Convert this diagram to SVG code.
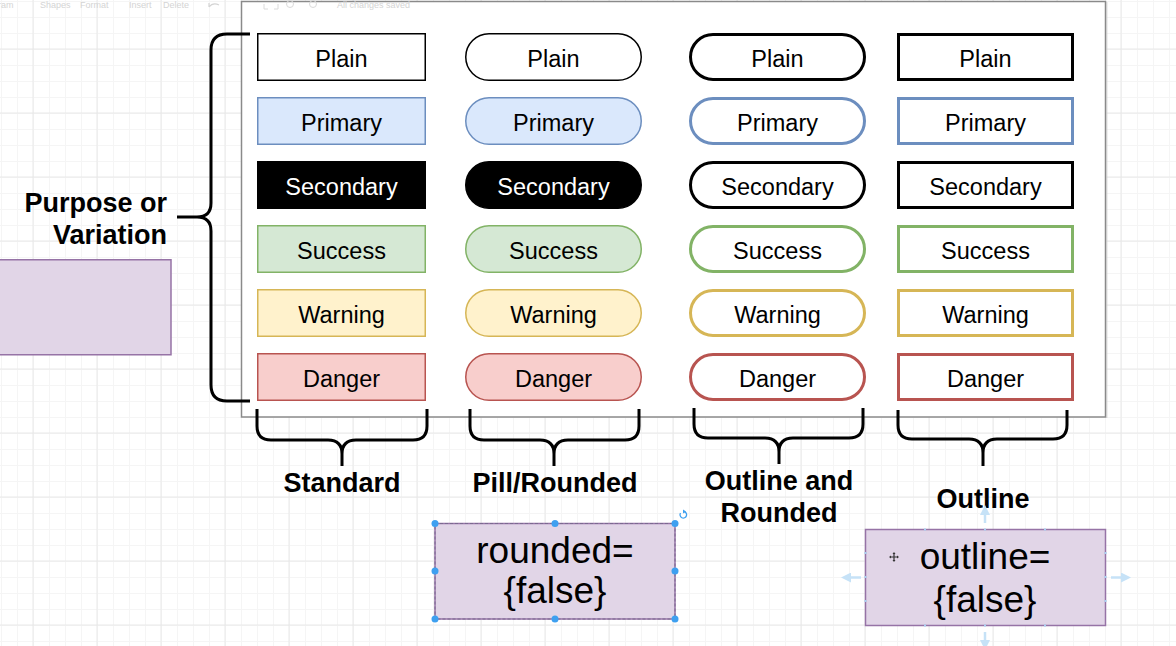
<svg xmlns="http://www.w3.org/2000/svg" width="1176" height="646" viewBox="0 0 1176 646">
<defs>
<pattern id="minor" patternUnits="userSpaceOnUse" x="1" y="1" width="16" height="16">
<path d="M0.5,0 V16 M0,0.5 H16" fill="none" stroke="#f5f5f5" stroke-width="1"/>
</pattern>
<pattern id="major" patternUnits="userSpaceOnUse" x="32.5" y="48.5" width="64" height="64">
<path d="M0.5,0 V64 M0,0.5 H64" fill="none" stroke="#e8e8e8" stroke-width="1"/>
</pattern>
<marker id="harrow" viewBox="0 0 10 10" refX="5" refY="5" markerWidth="4" markerHeight="4" orient="auto">
<path d="M0,0 L10,5 L0,10 z" fill="#c6e2f7"/>
</marker>
</defs>
<style>
.t{font-family:"Liberation Sans",Arial,Helvetica,sans-serif;font-size:23.5px;text-anchor:middle;fill:#000}
.tw{fill:#fff}
.lbl{font-family:"Liberation Sans",Arial,Helvetica,sans-serif;font-size:27px;font-weight:bold;fill:#000}
.big{font-family:"Liberation Sans",Arial,Helvetica,sans-serif;font-size:37px;text-anchor:middle;fill:#000}
.tb{font-family:"Liberation Sans",Arial,Helvetica,sans-serif;font-size:9px;fill:#d4d4d4}
.brace{fill:none;stroke:#000;stroke-width:3;stroke-linejoin:round}
.s1{stroke-width:1.5}
.s3{stroke-width:3;fill:#fff}
.plain{fill:#fff;stroke:#000}
.primary{fill:#dae8fc;stroke:#6c8ebf}
.secondary{fill:#000;stroke:#000}
.success{fill:#d5e8d4;stroke:#82b366}
.warning{fill:#fff2cc;stroke:#d6b656}
.danger{fill:#f8cecc;stroke:#b85450}
.o-plain{stroke:#000}
.o-primary{stroke:#6c8ebf}
.o-secondary{stroke:#000}
.o-success{stroke:#82b366}
.o-warning{stroke:#d6b656}
.o-danger{stroke:#b85450}
.purple{fill:#e1d5e7;stroke:#9673a6;stroke-width:1.5}
.handle{fill:#3ea0f0}
.hov{fill:none;stroke:#c6e2f7;stroke-width:2.5}
</style>

<!-- background grid -->
<rect x="0" y="0" width="1176" height="646" fill="#ffffff"/>
<rect x="0" y="0" width="1176" height="646" fill="url(#minor)"/>
<rect x="0" y="0" width="1176" height="646" fill="url(#major)"/>

<!-- faint toolbar -->
<g id="toolbar">
<text class="tb" x="-2" y="8">ram</text>
<text class="tb" x="40" y="8">Shapes</text>
<text class="tb" x="80" y="8">Format</text>
<text class="tb" x="129" y="8">Insert</text>
<text class="tb" x="163" y="8">Delete</text>
<path d="M209,7 Q213,2 219,5 M209,7 V3" fill="none" stroke="#d4d4d4" stroke-width="1.2"/>
</g>

<!-- panel -->
<g id="panel">
<rect x="241.5" y="1.5" width="864" height="415.5" fill="#ffffff" stroke="#8a8a8a" stroke-width="1.5"/>
<line x1="1106.8" y1="2" x2="1106.8" y2="418" stroke="#c8c8c8" stroke-width="1"/>
<path d="M264,4 V9 H268 M278,4 V9 H274" fill="none" stroke="#dadada" stroke-width="1"/>
<circle cx="290" cy="4" r="3.5" fill="none" stroke="#dadada" stroke-width="1"/>
<circle cx="313" cy="4" r="3.5" fill="none" stroke="#dadada" stroke-width="1"/>
<text class="tb" x="337" y="8">All changes saved</text>
</g>

<!-- Standard column -->
<g id="std-plain"><rect class="plain s1" x="257.75" y="33.75" width="167.5" height="46.5"/><text class="t" x="341.5" y="66.5">Plain</text></g>
<g id="std-primary"><rect class="primary s1" x="257.75" y="97.75" width="167.5" height="46.5"/><text class="t" x="341.5" y="130.5">Primary</text></g>
<g id="std-secondary"><rect class="secondary s1" x="257.75" y="161.75" width="167.5" height="46.5"/><text class="t tw" x="341.5" y="194.5">Secondary</text></g>
<g id="std-success"><rect class="success s1" x="257.75" y="225.75" width="167.5" height="46.5"/><text class="t" x="341.5" y="258.5">Success</text></g>
<g id="std-warning"><rect class="warning s1" x="257.75" y="289.75" width="167.5" height="46.5"/><text class="t" x="341.5" y="322.5">Warning</text></g>
<g id="std-danger"><rect class="danger s1" x="257.75" y="353.75" width="167.5" height="46.5"/><text class="t" x="341.5" y="386.5">Danger</text></g>

<!-- Pill column -->
<g id="pill-plain"><rect class="plain s1" x="465.75" y="33.75" width="175.5" height="46.5" rx="23.25"/><text class="t" x="553.5" y="66.5">Plain</text></g>
<g id="pill-primary"><rect class="primary s1" x="465.75" y="97.75" width="175.5" height="46.5" rx="23.25"/><text class="t" x="553.5" y="130.5">Primary</text></g>
<g id="pill-secondary"><rect class="secondary s1" x="465.75" y="161.75" width="175.5" height="46.5" rx="23.25"/><text class="t tw" x="553.5" y="194.5">Secondary</text></g>
<g id="pill-success"><rect class="success s1" x="465.75" y="225.75" width="175.5" height="46.5" rx="23.25"/><text class="t" x="553.5" y="258.5">Success</text></g>
<g id="pill-warning"><rect class="warning s1" x="465.75" y="289.75" width="175.5" height="46.5" rx="23.25"/><text class="t" x="553.5" y="322.5">Warning</text></g>
<g id="pill-danger"><rect class="danger s1" x="465.75" y="353.75" width="175.5" height="46.5" rx="23.25"/><text class="t" x="553.5" y="386.5">Danger</text></g>

<!-- Outline and rounded column -->
<g id="or-plain"><rect class="o-plain s3" x="690.5" y="34.5" width="174" height="45" rx="22.5"/><text class="t" x="777.5" y="66.5">Plain</text></g>
<g id="or-primary"><rect class="o-primary s3" x="690.5" y="98.5" width="174" height="45" rx="22.5"/><text class="t" x="777.5" y="130.5">Primary</text></g>
<g id="or-secondary"><rect class="o-secondary s3" x="690.5" y="162.5" width="174" height="45" rx="22.5"/><text class="t" x="777.5" y="194.5">Secondary</text></g>
<g id="or-success"><rect class="o-success s3" x="690.5" y="226.5" width="174" height="45" rx="22.5"/><text class="t" x="777.5" y="258.5">Success</text></g>
<g id="or-warning"><rect class="o-warning s3" x="690.5" y="290.5" width="174" height="45" rx="22.5"/><text class="t" x="777.5" y="322.5">Warning</text></g>
<g id="or-danger"><rect class="o-danger s3" x="690.5" y="354.5" width="174" height="45" rx="22.5"/><text class="t" x="777.5" y="386.5">Danger</text></g>

<!-- Outline column -->
<g id="ol-plain"><rect class="o-plain s3" x="898.5" y="34.5" width="174" height="45"/><text class="t" x="985.5" y="66.5">Plain</text></g>
<g id="ol-primary"><rect class="o-primary s3" x="898.5" y="98.5" width="174" height="45"/><text class="t" x="985.5" y="130.5">Primary</text></g>
<g id="ol-secondary"><rect class="o-secondary s3" x="898.5" y="162.5" width="174" height="45"/><text class="t" x="985.5" y="194.5">Secondary</text></g>
<g id="ol-success"><rect class="o-success s3" x="898.5" y="226.5" width="174" height="45"/><text class="t" x="985.5" y="258.5">Success</text></g>
<g id="ol-warning"><rect class="o-warning s3" x="898.5" y="290.5" width="174" height="45"/><text class="t" x="985.5" y="322.5">Warning</text></g>
<g id="ol-danger"><rect class="o-danger s3" x="898.5" y="354.5" width="174" height="45"/><text class="t" x="985.5" y="386.5">Danger</text></g>

<!-- brackets -->
<g id="connectors">
<path class="brace" d="M250,34 H227 Q211,34 211,50 V203 Q211,217 197,217 H177 M197,217 Q211,217 211,231 V385 Q211,401 227,401 H250"/>
<path class="brace" d="M257,409 V426 Q257,440 271,440 H328 Q342,440 342,454 V466 M342,454 Q342,440 356,440 H413 Q427,440 427,426 V409"/>
<path class="brace" d="M470,409 V426 Q470,440 484,440 H540 Q554,440 554,454 V466 M554,454 Q554,440 568,440 H625 Q639,440 639,426 V409"/>
<path class="brace" d="M694,408 V424 Q694,438 708,438 H765 Q779,438 779,452 V464 M779,452 Q779,438 793,438 H849 Q863,438 863,424 V408"/>
<path class="brace" d="M898,410 V425 Q898,439 912,439 H969 Q983,439 983,453 V466 M983,453 Q983,439 997,439 H1053 Q1067,439 1067,425 V410"/>
</g>

<!-- labels -->
<g id="label-purpose">
<text class="lbl" x="167" y="212" text-anchor="end">Purpose or</text>
<text class="lbl" x="167" y="244" text-anchor="end">Variation</text>
</g>
<g id="label-standard"><text class="lbl" x="342" y="492" text-anchor="middle">Standard</text></g>
<g id="label-pill"><text class="lbl" x="555" y="492" text-anchor="middle">Pill/Rounded</text></g>
<g id="label-outline-rounded">
<text class="lbl" x="779" y="490" text-anchor="middle">Outline and</text>
<text class="lbl" x="779" y="522" text-anchor="middle">Rounded</text>
</g>
<g id="label-outline"><text class="lbl" x="983" y="508" text-anchor="middle">Outline</text></g>

<!-- left purple box -->
<g id="purple-left"><rect class="purple" x="-2" y="259.75" width="173" height="95"/></g>

<!-- rounded={false} -->
<g id="rounded-false">
<rect class="purple" x="435" y="523.5" width="240" height="95.5"/>
<rect x="435" y="523.5" width="240" height="95.5" fill="none" stroke="#7a6a90" stroke-width="1" stroke-dasharray="3,2"/>
<text class="big" x="555" y="563">rounded=</text>
<text class="big" x="555" y="603">{false}</text>
<circle class="handle" cx="435" cy="523.5" r="3.5"/>
<circle class="handle" cx="555" cy="523.5" r="3.5"/>
<circle class="handle" cx="675" cy="523.5" r="3.5"/>
<circle class="handle" cx="435" cy="571" r="3.5"/>
<circle class="handle" cx="675" cy="571" r="3.5"/>
<circle class="handle" cx="435" cy="619" r="3.5"/>
<circle class="handle" cx="555" cy="619" r="3.5"/>
<circle class="handle" cx="675" cy="619" r="3.5"/>
<path d="M680.5,513 A3.3,3.3 0 1 0 684,511.5" fill="none" stroke="#3ea0f0" stroke-width="1.3"/>
<path d="M683,509.5 L686,511.5 L683,513.5 z" fill="#3ea0f0"/>
</g>

<!-- outline={false} -->
<g id="outline-false">
<rect class="purple" x="865.5" y="529.5" width="240" height="96"/>
<g fill="#a8d0f2">
<rect x="924" y="528.5" width="2" height="2"/><rect x="984" y="528.5" width="2" height="2"/><rect x="1044" y="528.5" width="2" height="2"/>
<rect x="924" y="624.5" width="2" height="2"/><rect x="984" y="624.5" width="2" height="2"/><rect x="1044" y="624.5" width="2" height="2"/>
<rect x="864.5" y="552" width="2" height="2"/><rect x="864.5" y="576" width="2" height="2"/><rect x="864.5" y="600" width="2" height="2"/>
<rect x="1104.5" y="552" width="2" height="2"/><rect x="1104.5" y="576" width="2" height="2"/><rect x="1104.5" y="600" width="2" height="2"/>
</g>
<text class="big" x="985" y="569">outline=</text>
<text class="big" x="985" y="612">{false}</text>
<path d="M894,553 V561 M890,557 H898" stroke="#333" stroke-width="1.2"/>
<path d="M894,552 L892.5,554 H895.5 z M894,562 L892.5,560 H895.5 z M889,557 L891,555.5 V558.5 z M899,557 L897,555.5 V558.5 z" fill="#333"/>
</g>

<!-- hover arrows -->
<g id="hover-arrows">
<line class="hov" x1="861" y1="577.5" x2="846" y2="577.5" marker-end="url(#harrow)"/>
<line class="hov" x1="1111" y1="577.5" x2="1126" y2="577.5" marker-end="url(#harrow)"/>
<line class="hov" x1="985" y1="523" x2="985" y2="510" marker-end="url(#harrow)"/>
<line class="hov" x1="985" y1="632" x2="985" y2="645" marker-end="url(#harrow)"/>
</g>
</svg>
